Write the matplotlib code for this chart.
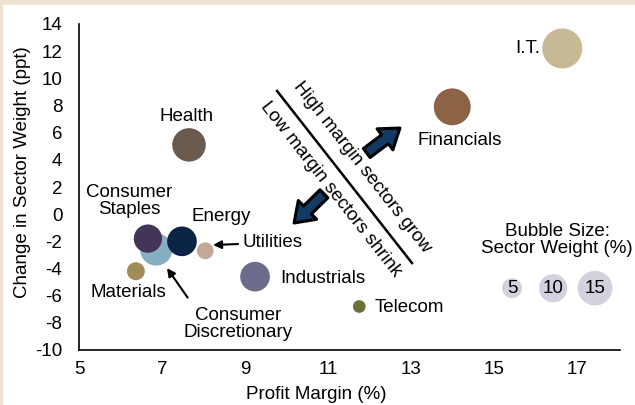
import matplotlib
matplotlib.use("Agg")
import matplotlib.pyplot as plt
from matplotlib.patches import Rectangle

plt.rcParams['font.family'] = ['Liberation Sans', 'DejaVu Sans']
plt.rcParams['axes.unicode_minus'] = False

# sektory: marza zysku (%), zmiana wagi (ppt), waga sektora (%)
sectors = ["Consumer Discretionary", "Consumer Staples", "Energy", "Utilities", "Materials",
           "Health", "Industrials", "Telecom", "Financials", "I.T."]
margin = [6.86, 6.66, 7.48, 8.04, 6.37, 7.65, 9.24, 11.75, 13.99, 16.64]
weight_change = [-2.6, -1.8, -2.0, -2.7, -4.2, 5.1, -4.6, -6.8, 7.9, 12.2]
sector_weight = [13, 10, 11, 3.5, 4, 14, 11, 2, 17, 20]
colors = ["#86AFC2", "#433558", "#0B2345", "#C3A899", "#A18B57",
          "#6B5B4F", "#6C6D8C", "#6D6E31", "#8C6445", "#C8B995"]

legend_weights = [5, 10, 15]
legend_x = [15.43, 16.42, 17.43]
legend_y = -5.45

SCALE = 41.5  # punkty^2 na 1% wagi

fig = plt.figure(figsize=(6.35, 4.05), dpi=100)
fig.patch.set_facecolor("#EEE3D0")
fig.patches.append(Rectangle((3/635, 0), 1, 1 - 5/405, transform=fig.transFigure,
                             facecolor="white", edgecolor="none", zorder=-10))
ax = fig.add_axes([79/635, 1 - 350/405, 541/635, 326/405])
ax.set_facecolor("none")

ax.scatter(margin, weight_change, s=[w * SCALE for w in sector_weight], c=colors,
           edgecolors="none", zorder=3)
ax.scatter(legend_x, [legend_y] * 3, s=[w * SCALE for w in legend_weights],
           c="#D2D2DE", edgecolors="none", zorder=3)
for lx, w in zip(legend_x, legend_weights):
    ax.text(lx, legend_y, str(w), ha="center", va="center", fontsize=13.5, zorder=4)

fs = 13.5
ax.text(16.11, 12.2, "I.T.", ha="right", va="center", fontsize=fs)
ax.text(14.17, 5.45, "Financials", ha="center", va="center", fontsize=fs)
ax.text(7.6, 7.2, "Health", ha="center", va="center", fontsize=fs)
ax.text(6.2, 0.95, "Consumer\nStaples", ha="center", va="center", fontsize=fs, linespacing=1.0)
ax.text(8.42, -0.15, "Energy", ha="center", va="center", fontsize=fs)
ax.text(6.2, -5.8, "Materials", ha="center", va="center", fontsize=fs)
ax.text(9.84, -4.7, "Industrials", ha="left", va="center", fontsize=fs)
ax.text(12.11, -6.9, "Telecom", ha="left", va="center", fontsize=fs)
ax.text(16.52, -1.9, "Bubble Size:\nSector Weight (%)", ha="center", va="center",
        fontsize=fs, linespacing=1.0)

ax.annotate("Utilities", xy=(8.23, -2.27), xytext=(8.93, -2.1), ha="left", va="center",
            fontsize=fs, arrowprops=dict(arrowstyle="-|>", color="black", lw=1.5,
                                         shrinkA=1, shrinkB=0, mutation_scale=12))
ax.annotate("Consumer\nDiscretionary", xy=(7.12, -3.97), xytext=(8.83, -8.1), ha="center",
            va="center", fontsize=fs, linespacing=1.0,
            arrowprops=dict(arrowstyle="-|>", color="black", lw=1.5, relpos=(0.1, 1.0),
                            shrinkA=6, shrinkB=0, mutation_scale=12))

# linia podzialu i grube strzalki
ax.plot([9.77, 13.02], [9.07, -3.6], color="black", lw=1.8, zorder=2)
ax.text(11.81, 3.43, "High margin sectors grow", rotation=-51.9, rotation_mode="anchor",
        ha="center", va="center", fontsize=fs)
ax.text(11.07, 1.85, "Low margin sectors shrink", rotation=-51.9, rotation_mode="anchor",
        ha="center", va="center", fontsize=fs)
fat = dict(arrowstyle="simple,head_length=0.75,head_width=1.05,tail_width=0.45",
           fc="#123A63", ec="black", lw=2.2, mutation_scale=18, shrinkA=0, shrinkB=0)
ax.annotate("", xy=(12.73, 6.34), xytext=(11.93, 4.5), arrowprops=fat)
ax.annotate("", xy=(10.18, -0.65), xytext=(10.9, 1.5), arrowprops=fat)

ax.set_xlim(5, 18.03)
ax.set_ylim(-10, 14)
ax.set_xticks([5, 7, 9, 11, 13, 15, 17])
ax.set_yticks(range(-10, 15, 2))
ax.tick_params(length=0, labelsize=fs)
ax.tick_params(axis="y", pad=12)
ax.tick_params(axis="x", pad=8)
for s in ["top", "right"]:
    ax.spines[s].set_visible(False)
for s in ["left", "bottom"]:
    ax.spines[s].set_linewidth(1.2)

ax.set_xlabel("Profit Margin (%)", fontsize=fs, va="center")
ax.xaxis.set_label_coords(0.438, -0.138)
ax.set_ylabel("Change in Sector Weight (ppt)", fontsize=fs, va="center")
ax.yaxis.set_label_coords(-0.105, 0.546)

fig.savefig("out.png", dpi=100, facecolor=fig.get_facecolor())
